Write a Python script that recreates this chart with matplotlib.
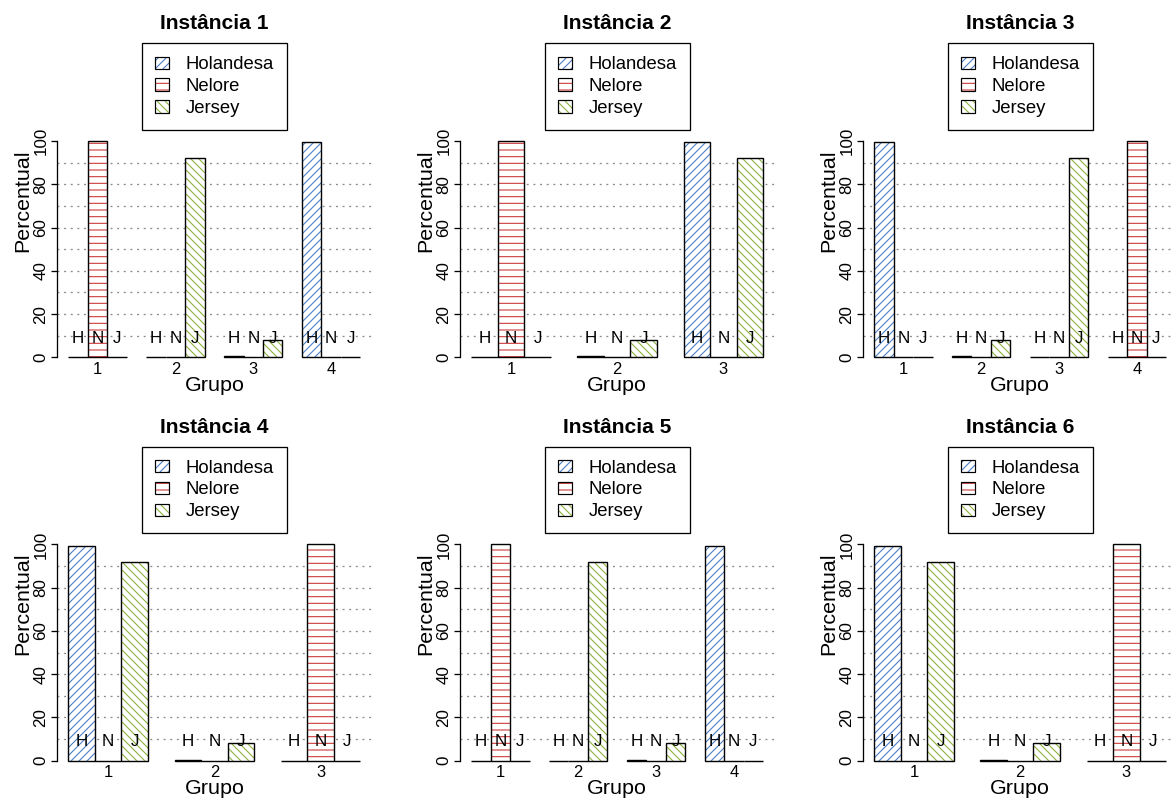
import matplotlib
matplotlib.use('Agg')
import matplotlib.pyplot as plt
from matplotlib.patches import Patch

# ---------------- data ----------------
breeds = ['Holandesa', 'Nelore', 'Jersey']
breed_letters = ['H', 'N', 'J']
titles = ['Instância 1', 'Instância 2', 'Instância 3',
          'Instância 4', 'Instância 5', 'Instância 6']

inst1_holandesa = [0, 0, 0.5, 99.5]
inst1_nelore = [100, 0, 0, 0]
inst1_jersey = [0, 92, 8, 0]

inst2_holandesa = [0, 0.5, 99.5]
inst2_nelore = [100, 0, 0]
inst2_jersey = [0, 8, 92]

inst3_holandesa = [99.5, 0.5, 0, 0]
inst3_nelore = [0, 0, 0, 100]
inst3_jersey = [0, 8, 92, 0]

inst4_holandesa = [99.5, 0.5, 0]
inst4_nelore = [0, 0, 100]
inst4_jersey = [92, 8, 0]

inst5_holandesa = [0, 0, 0.5, 99.5]
inst5_nelore = [100, 0, 0, 0]
inst5_jersey = [0, 92, 8, 0]

inst6_holandesa = [99.5, 0.5, 0]
inst6_nelore = [0, 0, 100]
inst6_jersey = [92, 8, 0]

instances = [
    (inst1_holandesa, inst1_nelore, inst1_jersey),
    (inst2_holandesa, inst2_nelore, inst2_jersey),
    (inst3_holandesa, inst3_nelore, inst3_jersey),
    (inst4_holandesa, inst4_nelore, inst4_jersey),
    (inst5_holandesa, inst5_nelore, inst5_jersey),
    (inst6_holandesa, inst6_nelore, inst6_jersey),
]
y_ticks = [0, 20, 40, 60, 80, 100]
grid_levels = [10, 20, 30, 40, 50, 60, 70, 80, 90]

# ---------------- style ----------------
DPI = 240
W, H = 1173, 798
PT = 72.0 / DPI          # points per pixel

hatch_colors = ['#4a7fc6', '#cc3a3a', '#8db33a']
hatches = ['/' * 10, '-' * 6, '\\' * 10]
LETTER_Y = 6.6

plt.rcParams['font.family'] = ['Liberation Sans', 'DejaVu Sans']
plt.rcParams['hatch.linewidth'] = 1.1 * PT

fig = plt.figure(figsize=(W / DPI, H / DPI), dpi=DPI)
fig.patch.set_facecolor('white')

col_left = [56.7, 459.5, 862.5]
row_top = [132.4, 535.8]
ax_w, ax_h = 315.3, 233.6

for idx, (title, series) in enumerate(zip(titles, instances)):
    r, c = divmod(idx, 3)
    L, T = col_left[c], row_top[r]
    ax = fig.add_axes([L / W, 1 - (T + ax_h) / H, ax_w / W, ax_h / H])
    n = len(series[0])
    span = 4 * n - 1
    ax.set_xlim(1 - 0.04 * span, 4 * n + 0.04 * span)
    ax.set_ylim(-4, 104)

    for v in grid_levels:
        ax.axhline(v, color='#8a8a8a', lw=1.3 * PT, ls=(0, (1.5, 3.6)), zorder=1)

    for k, vals in enumerate(series):
        lefts = [1 + 4 * g + k for g in range(n)]
        ax.bar(lefts, vals, width=1, align='edge', color='white',
               edgecolor=hatch_colors[k], hatch=hatches[k], linewidth=0, zorder=2)
        ax.bar(lefts, vals, width=1, align='edge', facecolor='none',
               edgecolor='black', linewidth=1.4 * PT, zorder=3)
        for x0 in lefts:
            ax.text(x0 + 0.5, LETTER_Y, breed_letters[k], ha='center', va='baseline',
                    fontsize=17 * PT, zorder=4)

    for s in ['top', 'right', 'bottom']:
        ax.spines[s].set_visible(False)
    ax.spines['left'].set_bounds(0, 100)
    ax.spines['left'].set_linewidth(1.3 * PT)

    ax.set_yticks(y_ticks, [str(t) for t in y_ticks], rotation=90, va='center')
    ax.tick_params(axis='y', length=6 * PT, width=1.3 * PT, pad=2.2 * PT,
                   labelsize=17 * PT)
    centers = [1 + 4 * g + 1.5 for g in range(n)]
    ax.set_xticks(centers, [str(g + 1) for g in range(n)])
    ax.tick_params(axis='x', length=0, pad=-4.4 * PT, labelsize=16.5 * PT)

    ax.set_title(title, fontsize=21 * PT, fontweight='bold', pad=103 * PT)
    ax.text(-0.1085, 0.708, 'Percentual', rotation=90, ha='center', va='center',
            fontsize=21.5 * PT, transform=ax.transAxes)
    ax.text(0.5, -0.1057, 'Grupo', ha='center', va='baseline',
            fontsize=21.5 * PT, transform=ax.transAxes)

    handles = []
    for k in range(3):
        handles.append((Patch(facecolor='white', edgecolor=hatch_colors[k],
                              hatch=hatches[k], linewidth=0),
                        Patch(facecolor='none', edgecolor='black', linewidth=1.2 * PT)))
    leg = ax.legend(handles, breeds, loc='upper center',
                    bbox_to_anchor=(0.5, 1.3815), bbox_transform=ax.transAxes,
                    borderaxespad=0, fontsize=18.5 * PT, handlelength=0.76,
                    handleheight=0.65, handletextpad=0.9, labelspacing=0.26,
                    borderpad=0.7, fancybox=False, framealpha=1,
                    edgecolor='black')
    leg.get_frame().set_linewidth(1.3 * PT)

fig.savefig('out.png', dpi=DPI)
